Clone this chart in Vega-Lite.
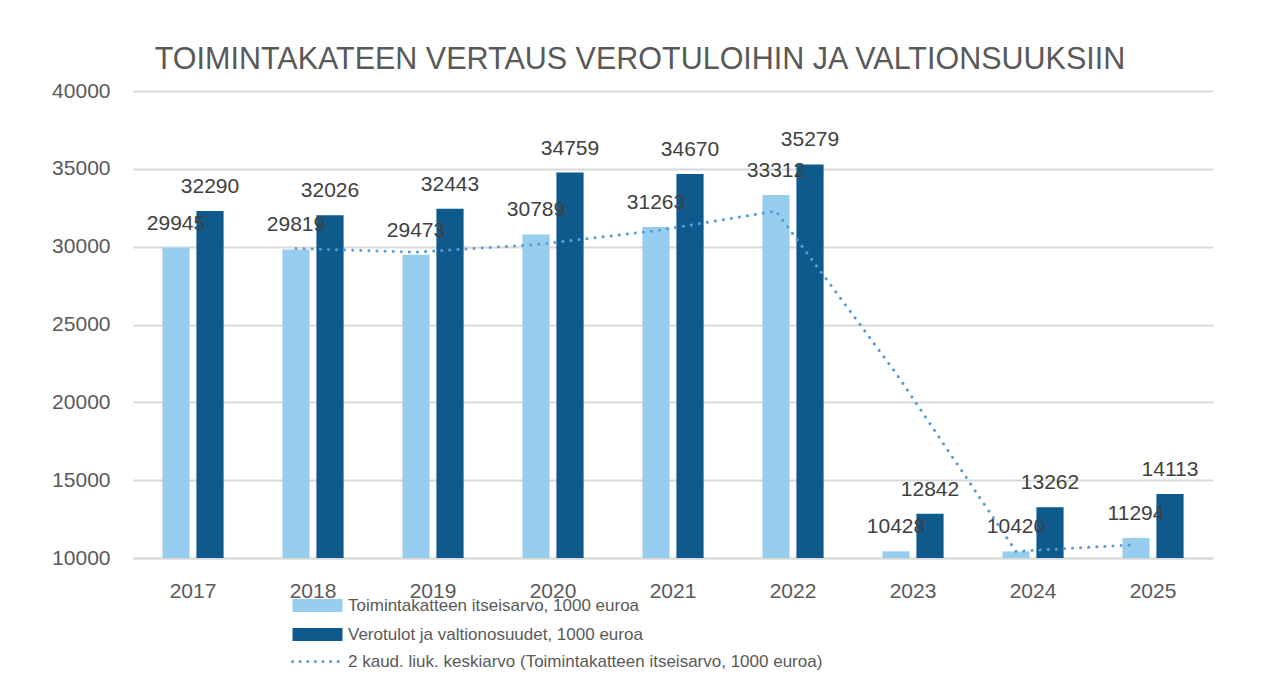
{
  "$schema": "https://vega.github.io/schema/vega-lite/v6.json",
  "width": 1080,
  "height": 467,
  "autosize": {"type": "none"},
  "padding": {"left": 133, "top": 91, "right": 49, "bottom": 126},
  "background": "white",
  "config": {"view": {"stroke": null}, "font": "Liberation Sans"},
  "title": {
    "text": "TOIMINTAKATEEN VERTAUS VEROTULOIHIN JA VALTIONSUUKSIIN",
    "font": "Liberation Sans",
    "fontSize": 30.5,
    "fontWeight": "normal",
    "color": "#595959",
    "anchor": "middle",
    "frame": "group",
    "dx": -33,
    "offset": -19,
    "baseline": "alphabetic"
  },
  "datasets": {
    "bars": [
      {"year": "2017", "series": "Toimintakatteen itseisarvo, 1000 euroa", "value": 29945},
      {"year": "2018", "series": "Toimintakatteen itseisarvo, 1000 euroa", "value": 29819},
      {"year": "2019", "series": "Toimintakatteen itseisarvo, 1000 euroa", "value": 29473},
      {"year": "2020", "series": "Toimintakatteen itseisarvo, 1000 euroa", "value": 30789},
      {"year": "2021", "series": "Toimintakatteen itseisarvo, 1000 euroa", "value": 31263},
      {"year": "2022", "series": "Toimintakatteen itseisarvo, 1000 euroa", "value": 33312},
      {"year": "2023", "series": "Toimintakatteen itseisarvo, 1000 euroa", "value": 10428},
      {"year": "2024", "series": "Toimintakatteen itseisarvo, 1000 euroa", "value": 10420},
      {"year": "2025", "series": "Toimintakatteen itseisarvo, 1000 euroa", "value": 11294},
      {"year": "2017", "series": "Verotulot ja valtionosuudet, 1000 euroa", "value": 32290},
      {"year": "2018", "series": "Verotulot ja valtionosuudet, 1000 euroa", "value": 32026},
      {"year": "2019", "series": "Verotulot ja valtionosuudet, 1000 euroa", "value": 32443},
      {"year": "2020", "series": "Verotulot ja valtionosuudet, 1000 euroa", "value": 34759},
      {"year": "2021", "series": "Verotulot ja valtionosuudet, 1000 euroa", "value": 34670},
      {"year": "2022", "series": "Verotulot ja valtionosuudet, 1000 euroa", "value": 35279},
      {"year": "2023", "series": "Verotulot ja valtionosuudet, 1000 euroa", "value": 12842},
      {"year": "2024", "series": "Verotulot ja valtionosuudet, 1000 euroa", "value": 13262},
      {"year": "2025", "series": "Verotulot ja valtionosuudet, 1000 euroa", "value": 14113}
    ],
    "ma": [
      {"year": "2018", "series": "Toimintakatteen itseisarvo, 1000 euroa", "ma": 29882},
      {"year": "2019", "series": "Toimintakatteen itseisarvo, 1000 euroa", "ma": 29646},
      {"year": "2020", "series": "Toimintakatteen itseisarvo, 1000 euroa", "ma": 30131},
      {"year": "2021", "series": "Toimintakatteen itseisarvo, 1000 euroa", "ma": 31026},
      {"year": "2022", "series": "Toimintakatteen itseisarvo, 1000 euroa", "ma": 32287.5},
      {"year": "2023", "series": "Toimintakatteen itseisarvo, 1000 euroa", "ma": 21870},
      {"year": "2024", "series": "Toimintakatteen itseisarvo, 1000 euroa", "ma": 10424},
      {"year": "2025", "series": "Toimintakatteen itseisarvo, 1000 euroa", "ma": 10857}
    ]
  },
  "encoding": {
    "x": {
      "field": "year",
      "type": "nominal",
      "scale": {"paddingInner": 0.49, "paddingOuter": 0.245},
      "axis": {
        "title": null,
        "labelAngle": 0,
        "labelFontSize": 21,
        "labelColor": "#595959",
        "labelPadding": 22,
        "ticks": false,
        "domainColor": "#d9d9d9",
        "domainWidth": 2
      }
    },
    "xOffset": {
      "field": "series",
      "type": "nominal",
      "scale": {"paddingInner": 0.2, "paddingOuter": 0}
    }
  },
  "layer": [
    {
      "data": {"name": "bars"},
      "mark": {"type": "bar"},
      "encoding": {
        "y": {
          "field": "value",
          "type": "quantitative",
          "scale": {"domain": [10000, 40000], "zero": false, "nice": false},
          "axis": {
            "title": null,
            "values": [10000, 15000, 20000, 25000, 30000, 35000, 40000],
            "format": "d",
            "domain": false,
            "ticks": false,
            "labelFontSize": 21,
            "labelColor": "#595959",
            "labelPadding": 23,
            "gridColor": "#d9d9d9",
            "gridWidth": 2
          }
        },
        "y2": {"datum": 10000},
        "color": {
          "field": "series",
          "type": "nominal",
          "scale": {
            "domain": [
              "Toimintakatteen itseisarvo, 1000 euroa",
              "Verotulot ja valtionosuudet, 1000 euroa"
            ],
            "range": ["#97cef0", "#0e5a8c"]
          },
          "legend": {
            "orient": "none",
            "legendX": 176,
            "legendY": 506,
            "title": null,
            "direction": "vertical",
            "symbolType": "M-5,-1.3H5V1.3H-5Z",
            "symbolSize": 100,
            "symbolStrokeWidth": 0,
            "symbolOpacity": 1,
            "labelFontSize": 17,
            "labelColor": "#595959",
            "labelOffset": 22,
            "rowPadding": 11,
            "padding": 0,
            "labelLimit": 800
          }
        }
      }
    },
    {
      "data": {"name": "bars"},
      "mark": {"type": "text", "baseline": "alphabetic", "dy": -18, "fontSize": 21, "color": "#404040"},
      "encoding": {
        "y": {"field": "value", "type": "quantitative"},
        "text": {"field": "value", "type": "quantitative", "format": "d"}
      }
    },
    {
      "data": {"name": "ma"},
      "mark": {"type": "line", "strokeWidth": 3, "strokeDash": [0.1, 8], "strokeCap": "round"},
      "encoding": {
        "y": {"field": "ma", "type": "quantitative"},
        "stroke": {
          "datum": "2 kaud. liuk. keskiarvo (Toimintakatteen itseisarvo, 1000 euroa)",
          "type": "nominal",
          "scale": {"range": ["#5b9bd5"]},
          "legend": {
            "orient": "none",
            "legendX": 176,
            "legendY": 562,
            "title": null,
            "symbolType": "M-5,0H5",
            "symbolSize": 100,
            "symbolStrokeWidth": 3,
            "symbolDash": [0.1, 7.5],
            "symbolOpacity": 1,
            "labelFontSize": 17,
            "labelColor": "#595959",
            "labelOffset": 22,
            "padding": 0,
            "labelLimit": 800,
            "encode": {
              "symbols": {
                "update": {
                  "strokeCap": {"value": "round"}
                }
              }
            }
          }
        }
      }
    }
  ]
}
